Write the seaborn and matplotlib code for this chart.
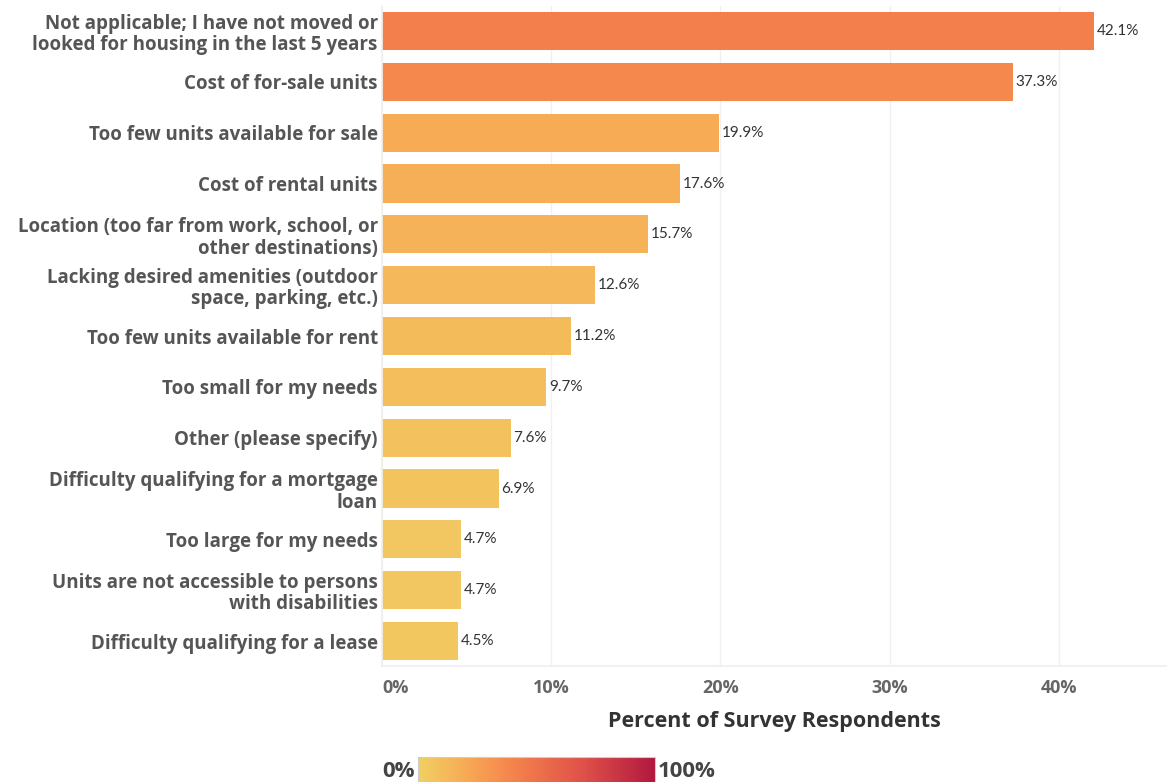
import matplotlib
matplotlib.use("Agg")
import matplotlib.pyplot as plt
from matplotlib.colors import LinearSegmentedColormap, Normalize
from matplotlib.cm import ScalarMappable
import seaborn as sns
import pandas as pd

categories = [
    "Not applicable; I have not moved or\nlooked for housing in the last 5 years",
    "Cost of for-sale units",
    "Too few units available for sale",
    "Cost of rental units",
    "Location (too far from work, school, or\nother destinations)",
    "Lacking desired amenities (outdoor\nspace, parking, etc.)",
    "Too few units available for rent",
    "Too small for my needs",
    "Other (please specify)",
    "Difficulty qualifying for a mortgage\nloan",
    "Too large for my needs",
    "Units are not accessible to persons\nwith disabilities",
    "Difficulty qualifying for a lease",
]
percent = [42.1, 37.3, 19.9, 17.6, 15.7, 12.6, 11.2, 9.7, 7.6, 6.9, 4.7, 4.7, 4.5]
x_ticks = [0, 10, 20, 30, 40]
x_tick_labels = ["0%", "10%", "20%", "30%", "40%"]

sns.set_theme(style="white")
plt.rcParams["font.family"] = ["Open Sans", "DejaVu Sans"]

cmap = LinearSegmentedColormap.from_list(
    "gold_red",
    [(0.0, "#f1cf63"), (0.2, "#f7aa55"), (0.4, "#f5834c"),
     (0.7, "#de5049"), (1.0, "#b1183e")],
)
norm = Normalize(0, 100)
bar_colors = [cmap(norm(v)) for v in percent]

df = pd.DataFrame({"category": categories, "percent": percent})

fig = plt.figure(figsize=(11.67, 7.82), dpi=100)
ax = fig.add_axes([0.3273, 0.1478, 0.6727, 0.845])

sns.barplot(data=df, x="percent", y="category", hue="category",
            palette=bar_colors, legend=False, width=0.75, ax=ax,
            saturation=1, edgecolor="none")

ax.set_xlim(0, 46.4)
ax.set_ylim(len(categories) - 0.5, -0.5)
ax.set_xticks(x_ticks)
ax.set_xticklabels(x_tick_labels)
ax.xaxis.grid(True, color="#f0f0f0", linewidth=1)
ax.set_axisbelow(True)
for side in ["top", "right"]:
    ax.spines[side].set_visible(False)
ax.spines["left"].set_color("#f0f0f0")
ax.spines["bottom"].set_color("#f0f0f0")

ax.tick_params(axis="y", length=0, pad=3, labelsize=13.5, labelcolor="#555555")
ax.tick_params(axis="x", length=0, pad=9, labelsize=13, labelcolor="#666666")
for lbl in ax.get_yticklabels():
    lbl.set_fontweight("bold")
    lbl.set_linespacing(1.12)
xlabels = ax.get_xticklabels()
for lbl in xlabels:
    lbl.set_fontweight("bold")
xlabels[0].set_horizontalalignment("left")

ax.set_ylabel("")
ax.set_xlabel("Percent of Survey Respondents", fontsize=15.5, fontweight="bold",
              color="#333333", labelpad=10)

for i, v in enumerate(percent):
    ax.annotate(f"{v:.1f}%", xy=(v, i), xytext=(2, 0), textcoords="offset points",
                va="center", ha="left", fontsize=11, color="#333333",
                family=["Lato", "DejaVu Sans"])

# color legend strip
cax = fig.add_axes([0.3582, -0.01, 0.2031, 0.042])
cb = fig.colorbar(ScalarMappable(norm=norm, cmap=cmap), cax=cax, orientation="horizontal")
cb.set_ticks([])
cb.outline.set_edgecolor("#cccccc")
cb.outline.set_linewidth(0.8)
fig.text(0.3555, 0.013, "0%", ha="right", va="center", fontsize=16,
         fontweight="bold", color="#444444")
fig.text(0.5635, 0.013, "100%", ha="left", va="center", fontsize=16,
         fontweight="bold", color="#444444")

fig.savefig("out.png", dpi=100)
